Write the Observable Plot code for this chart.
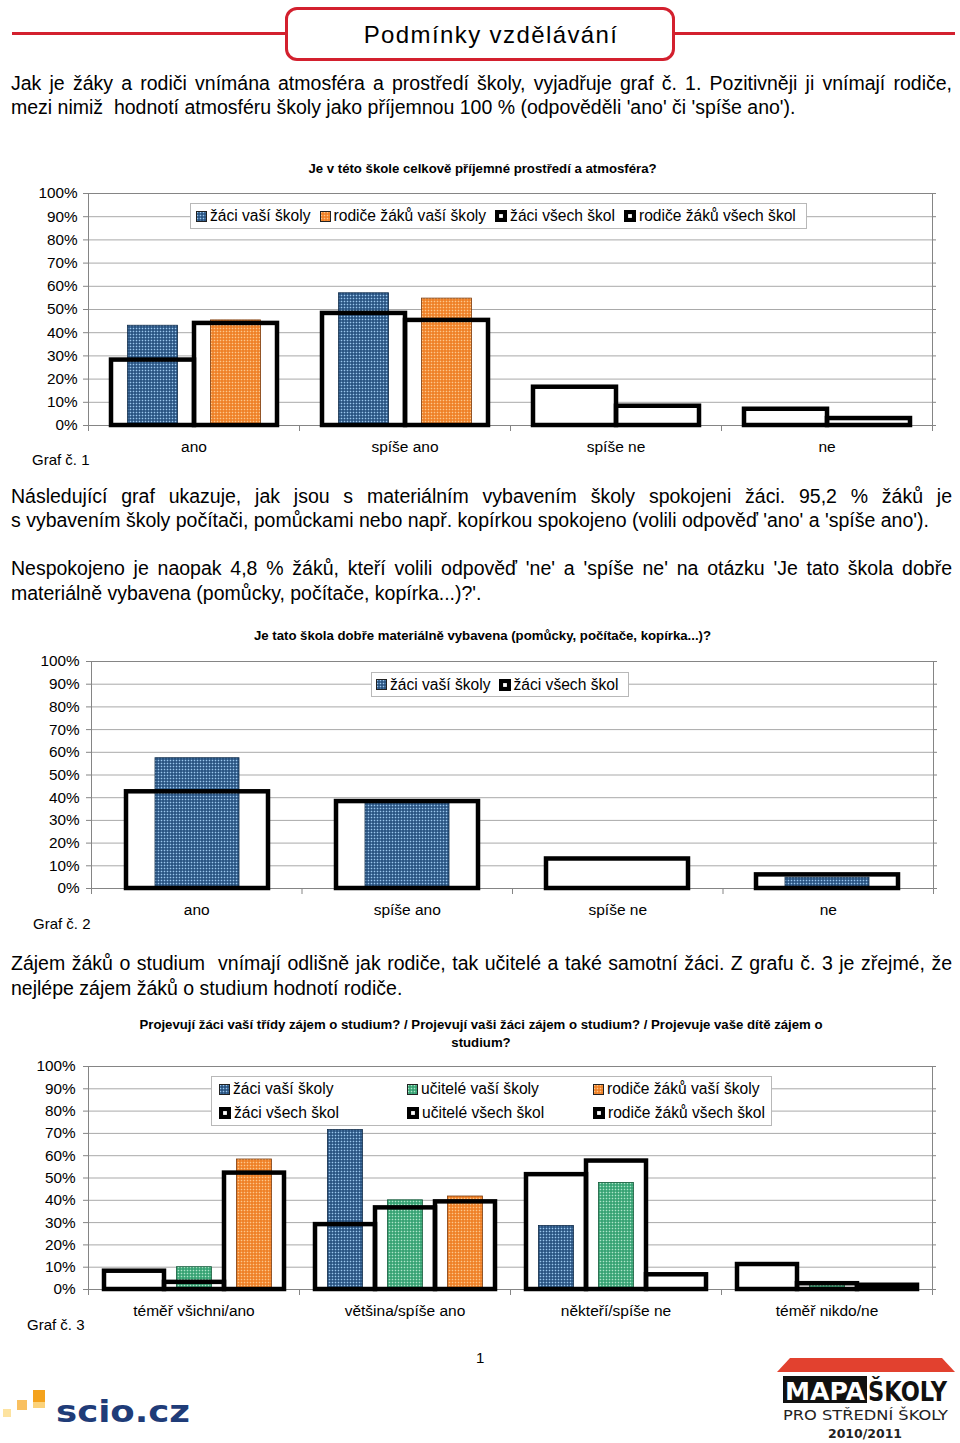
<!DOCTYPE html>
<html><head><meta charset="utf-8">
<script src="https://cdn.jsdelivr.net/npm/d3@7"></script>
<script src="https://cdn.jsdelivr.net/npm/@observablehq/plot@0.6"></script>
<style>
body{margin:0;background:#fff;}
#page{position:relative;width:960px;height:1443px;overflow:hidden;background:#fff;font-family:"Liberation Sans",Arial,sans-serif;color:#000;}
.abs{position:absolute;}
.line{position:absolute;left:11px;width:941px;font-size:19.5px;line-height:24px;white-space:nowrap;}
.just{text-align:justify;text-align-last:justify;}
.ctitle{position:absolute;left:0;font-weight:bold;font-size:13.2px;line-height:18px;text-align:center;}
.legend{position:absolute;background:#fff;border:1px solid #b8b8b8;font-size:15.6px;box-sizing:border-box;}
.legend .it{display:flex;align-items:center;white-space:nowrap;}
.legend svg{margin-right:3px;flex:none;}
.graf{position:absolute;font-size:15px;line-height:18px;}
.plotwrap{position:absolute;left:0;}
.plotwrap svg{position:absolute;left:0;top:0;}
</style>
</head><body>
<svg width="0" height="0" style="position:absolute">
  <defs>
    <pattern id="pBlue" width="3" height="3" patternUnits="userSpaceOnUse">
      <rect width="3" height="3" fill="#1f4a78"/><rect x="0.7" y="0.7" width="1.6" height="1.6" fill="#9cc7ee"/>
    </pattern>
    <pattern id="pOrange" width="3" height="3" patternUnits="userSpaceOnUse">
      <rect width="3" height="3" fill="#ee7a1e"/><rect x="0.7" y="0.7" width="1.6" height="1.6" fill="#fcc78c"/>
    </pattern>
    <pattern id="pGreen" width="3" height="3" patternUnits="userSpaceOnUse">
      <rect width="3" height="3" fill="#2c9c6c"/><rect x="0.7" y="0.7" width="1.6" height="1.6" fill="#aee6c9"/>
    </pattern>
  </defs>
</svg>
<div id="page">
  <!-- header -->
  <div class="abs" style="left:12px;top:32px;width:943px;height:3px;background:#d3202e;"></div>
  <div class="abs" style="left:285px;top:7px;width:390px;height:54px;box-sizing:border-box;border:3px solid #d3202e;border-radius:12px;background:#fff;"></div>
  <div class="abs" style="left:296px;top:21px;width:390px;text-align:center;font-size:24px;letter-spacing:1.4px;line-height:28px;">Podmínky vzdělávání</div>

  <div class="line just" style="top:71px;">Jak je žáky a rodiči vnímána atmosféra a prostředí školy, vyjadřuje graf č. 1. Pozitivněji ji vnímají rodiče,</div>
  <div class="line" style="top:95px;">mezi nimiž&nbsp; hodnotí atmosféru školy jako příjemnou 100 % (odpověděli 'ano' či 'spíše ano').</div>

  <div class="ctitle" style="top:160px;width:965px;" id="t1"></div>
  <div id="c1" class="plotwrap" style="top:183px;"></div>
  <div class="legend" id="l1" style="left:190px;top:203px;width:617px;height:26px;display:flex;align-items:center;padding-left:5px;gap:9px;"></div>
  <div class="graf" style="left:32px;top:451px;">Graf č. 1</div>

  <div class="line just" style="top:484px;">Následující graf ukazuje, jak jsou s materiálním vybavením školy spokojeni žáci. 95,2 % žáků je</div>
  <div class="line" style="top:508px;">s vybavením školy počítači, pomůckami nebo např. kopírkou spokojeno (volili odpověď 'ano' a 'spíše ano').</div>
  <div class="line just" style="top:556px;">Nespokojeno je naopak 4,8 % žáků, kteří volili odpověď 'ne' a 'spíše ne' na otázku 'Je tato škola dobře</div>
  <div class="line" style="top:581px;">materiálně vybavena (pomůcky, počítače, kopírka...)?'.</div>

  <div class="ctitle" style="top:627px;width:965px;" id="t2"></div>
  <div id="c2" class="plotwrap" style="top:651px;"></div>
  <div class="legend" id="l2" style="left:371px;top:672px;width:258px;height:25px;display:flex;align-items:center;padding-left:4px;gap:8px;"></div>
  <div class="graf" style="left:33px;top:915px;">Graf č. 2</div>

  <div class="line just" style="top:951px;">Zájem žáků o studium&nbsp; vnímají odlišně jak rodiče, tak učitelé a také samotní žáci. Z grafu č. 3 je zřejmé, že</div>
  <div class="line" style="top:976px;">nejlépe zájem žáků o studium hodnotí rodiče.</div>

  <div class="ctitle" style="top:1016px;width:962px;" id="t3"></div>
  <div id="c3" class="plotwrap" style="top:1056px;"></div>
  <div class="legend" id="l3" style="left:211px;top:1076px;width:561px;height:50px;display:grid;grid-template-columns:188px 186px auto;grid-auto-rows:24px;align-content:center;padding-left:7px;"></div>
  <div class="graf" style="left:27px;top:1316px;">Graf č. 3</div>

  <div class="abs" style="left:476px;top:1349px;font-size:15px;">1</div>

  <!-- scio logo -->
  <svg class="abs" style="left:0;top:1385px;overflow:visible;" width="200" height="45">
    <rect x="3" y="24" width="8" height="8" fill="#fde3a0"/>
    <rect x="17" y="15" width="10" height="10" fill="#f9c060"/>
    <rect x="33" y="5" width="12" height="12" fill="#f4a21c"/>
    <rect x="33" y="17" width="12" height="6" fill="#fbd27a"/>
    <text x="56" y="37" font-family="DejaVu Sans" font-weight="bold" font-size="30" fill="#1f3c78" textLength="134" lengthAdjust="spacingAndGlyphs">scio.cz</text>
  </svg>
  <!-- Mapa skoly logo -->
  <svg class="abs" style="left:770px;top:1355px;overflow:visible;" width="186" height="88">
    <polygon points="20,3 172,3 185,17 7,17" fill="#e2412f"/>
    <rect x="13" y="21" width="84" height="27" fill="#111"/>
    <text x="15" y="45" font-family="DejaVu Sans" font-weight="bold" font-size="25" fill="#fff" textLength="80" lengthAdjust="spacingAndGlyphs">MAPA</text>
    <text x="98" y="46" font-family="DejaVu Sans" font-weight="bold" font-size="26" fill="#111" textLength="79" lengthAdjust="spacingAndGlyphs">ŠKOLY</text>
    <text x="13" y="65" font-family="DejaVu Sans" font-size="14" fill="#222" textLength="165" lengthAdjust="spacingAndGlyphs">PRO STŘEDNÍ ŠKOLY</text>
    <text x="58" y="83" font-family="DejaVu Sans" font-weight="bold" font-size="12" fill="#222" textLength="74" lengthAdjust="spacingAndGlyphs">2010/2011</text>
  </svg>
</div>
<script>
// ---------- DATA ----------
const yTicks = [0, 10, 20, 30, 40, 50, 60, 70, 80, 90, 100];

// Graf 1
const title1 = "Je v této škole celkově příjemné prostředí a atmosféra?";
const cats1 = ["ano", "spíše ano", "spíše ne", "ne"];
const groups1 = ["žáci", "rodiče"];
const zaciVasi1 = [43.0, 57.0, 0, 0];
const rodiceVasi1 = [45.3, 54.7, 0, 0];
const zaciVsech1 = [28.2, 48.3, 16.5, 7.0];
const rodiceVsech1 = [44.0, 45.3, 8.3, 3.0];
const legend1 = ["žáci vaší školy", "rodiče žáků vaší školy", "žáci všech škol", "rodiče žáků všech škol"];

// Graf 2
const title2 = "Je tato škola dobře materiálně vybavena (pomůcky, počítače, kopírka...)?";
const cats2 = ["ano", "spíše ano", "spíše ne", "ne"];
const groups2 = ["žáci"];
const zaciVasi2 = [57.4, 37.8, 0, 4.8];
const zaciVsech2 = [42.6, 38.3, 13.0, 6.0];
const legend2 = ["žáci vaší školy", "žáci všech škol"];

// Graf 3
const title3a = "Projevují žáci vaší třídy zájem o studium? / Projevují vaši žáci zájem o studium? / Projevuje vaše dítě zájem o";
const title3b = "studium?";
const cats3 = ["téměř všichni/ano", "většina/spíše ano", "někteří/spíše ne", "téměř nikdo/ne"];
const groups3 = ["žáci", "učitelé", "rodiče"];
const zaciVasi3 = [0, 71.5, 28.5, 0];
const uciteleVasi3 = [10.0, 40.0, 47.8, 2.2];
const rodiceVasi3 = [58.3, 41.7, 0, 0];
const zaciVsech3 = [8.2, 29.1, 51.5, 11.2];
const uciteleVsech3 = [3.2, 36.6, 57.6, 2.6];
const rodiceVsech3 = [52.2, 39.3, 6.6, 1.9];
const legend3 = ["žáci vaší školy", "učitelé vaší školy", "rodiče žáků vaší školy", "žáci všech škol", "učitelé všech škol", "rodiče žáků všech škol"];

// ---------- RENDERING ----------
const FONT = "Liberation Sans, Arial, sans-serif";
const GRID = "#a9a9a9", AXIS = "#858585";
const EDGE = {pBlue: "#0e2a48", pOrange: "#7a3a0c", pGreen: "#145a3a"};

function backdrop(c) {
  const n = c.cats.length;
  return Plot.plot({
    width: 960, height: c.height,
    marginTop: c.mt, marginBottom: c.mb, marginLeft: c.ml, marginRight: c.mr,
    style: {fontFamily: FONT, fontSize: "15px", background: "transparent", overflow: "visible", color: "#000"},
    x: {domain: [0, n]},
    y: {domain: [0, 100]},
    marks: [
      Plot.gridY({ticks: yTicks, stroke: GRID, strokeOpacity: 1}),
      Plot.ruleY([100], {stroke: AXIS}),
      Plot.ruleX([0, n], {stroke: AXIS}),
      Plot.ruleY([0], {stroke: AXIS}),
      Plot.axisY({ticks: yTicks, tickSize: 5, tickPadding: c.tickPad, tickFormat: d => d + "%", stroke: AXIS, fill: "#000", fontSize: 15.3, label: null}),
      Plot.axisY({anchor: "right", ticks: yTicks, tickSize: 3, tickFormat: () => "", stroke: AXIS, label: null}),
      Plot.axisX({ticks: d3.range(n + 1), tickSize: 6, tickFormat: () => "", stroke: AXIS, label: null}),
      Plot.text(c.cats, {x: (d, i) => i + 0.5, y: 0, dy: 22, fontSize: 15.5, fill: "#000"})
    ]
  });
}

function bars(c) {
  const rows = c.cats.flatMap((cat, i) => c.groups.map((g, j) => ({cat, group: g, ours: c.ours[j][i], all: c.all[j][i]})));
  return Plot.plot({
    width: 960, height: c.height,
    marginTop: c.mt, marginBottom: c.mb, marginLeft: c.ml, marginRight: c.mr,
    style: {background: "transparent", overflow: "visible"},
    fx: {domain: c.cats, padding: 0, axis: null, label: null},
    x: {domain: c.groups, paddingInner: 0, paddingOuter: c.pad, axis: null},
    y: {domain: [0, 100], axis: null},
    marks: [
      Plot.barY(rows, {fx: "cat", x: "group", y1: () => 0, y2: "all", fill: "white"}),
      ...c.groups.map((g, j) => Plot.barY(rows.filter(r => r.group === g && r.ours > 0), {
        fx: "cat", x: "group", y1: () => 0, y2: "ours",
        fill: `url(#${c.pats[j]})`, stroke: EDGE[c.pats[j]], strokeWidth: 0.8,
        insetLeft: c.inset, insetRight: c.inset
      })),
      Plot.barY(rows, {fx: "cat", x: "group", y1: () => 0, y2: "all", fill: "none", stroke: "#000", strokeWidth: 4.5})
    ]
  });
}

function draw(id, c) {
  const el = document.getElementById(id);
  el.style.height = c.height + "px";
  el.style.width = "960px";
  el.append(backdrop(c));
  el.append(bars(c));
}

function marker(kind) {
  if (kind === "outline")
    return `<svg width="12" height="12"><rect x="2" y="2" width="8" height="8" fill="#fff" stroke="#000" stroke-width="4.2"/></svg>`;
  return `<svg width="11" height="11"><rect x="0.5" y="0.5" width="10" height="10" fill="url(#${kind})" stroke="#222" stroke-width="1"/></svg>`;
}
function legend(id, names, kinds) {
  document.getElementById(id).innerHTML = names.map((n, i) => `<div class="it">${marker(kinds[i])}<span>${n}</span></div>`).join("");
}

document.getElementById("t1").textContent = title1;
document.getElementById("t2").textContent = title2;
document.getElementById("t3").innerHTML = title3a + "<br>" + title3b;

draw("c1", {cats: cats1, groups: groups1, ours: [zaciVasi1, rodiceVasi1], all: [zaciVsech1, rodiceVsech1],
  pats: ["pBlue", "pOrange"], height: 282, mt: 10, mb: 40, ml: 88, mr: 28, tickPad: 6, pad: 0.256, inset: 16.5});
legend("l1", legend1, ["pBlue", "pOrange", "outline", "outline"]);

draw("c2", {cats: cats2, groups: groups2, ours: [zaciVasi2], all: [zaciVsech2],
  pats: ["pBlue"], height: 277, mt: 10, mb: 40, ml: 91, mr: 27, tickPad: 7, pad: 0.236, inset: 29});
legend("l2", legend2, ["pBlue", "outline"]);

draw("c3", {cats: cats3, groups: groups3, ours: [zaciVasi3, uciteleVasi3, rodiceVasi3], all: [zaciVsech3, uciteleVsech3, rodiceVsech3],
  pats: ["pBlue", "pGreen", "pOrange"], height: 273, mt: 10, mb: 40, ml: 88, mr: 28, tickPad: 8, pad: 0.23, inset: 12.5});
legend("l3", legend3, ["pBlue", "pGreen", "pOrange", "outline", "outline", "outline"]);
</script>
</body></html>
